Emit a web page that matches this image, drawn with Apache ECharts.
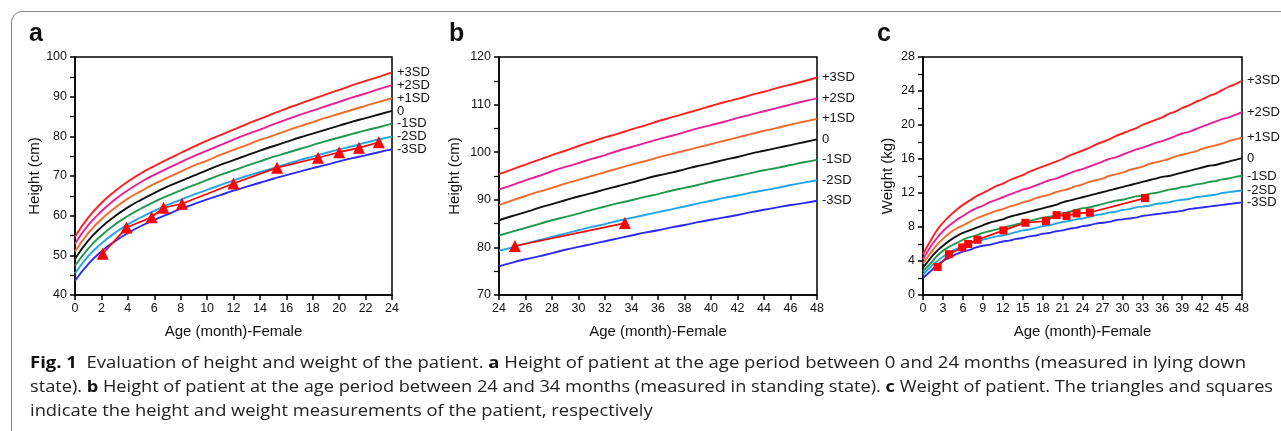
<!DOCTYPE html>
<html>
<head>
<meta charset="utf-8">
<script src="https://cdn.jsdelivr.net/npm/echarts@6/dist/echarts.min.js"></script>
<style>
html,body{margin:0;padding:0;background:#fff;width:1281px;height:431px;overflow:hidden;}
#frame{position:absolute;left:11px;top:11px;width:1300px;height:440px;border:1px solid #888;border-radius:11px;box-sizing:border-box;}
#chart{position:absolute;left:0;top:0;width:1281px;height:431px;}
.cap{position:absolute;left:30px;white-space:nowrap;font-family:"Open Sans","Noto Sans",sans-serif;font-size:16px;color:#222;transform-origin:0 50%;line-height:20px;}
.cap b{font-weight:700;color:#111;}
</style>
</head>
<body>
<div id="frame"></div>
<div id="chart"></div>
<div class="cap" id="c1" style="top:352px"><b>Fig. 1</b>&nbsp; Evaluation of height and weight of the patient. <b>a</b> Height of patient at the age period between 0 and 24 months (measured in lying down</div>
<div class="cap" id="c2" style="top:376px">state). <b>b</b> Height of patient at the age period between 24 and 34 months (measured in standing state). <b>c</b> Weight of patient. The triangles and squares</div>
<div class="cap" id="c3" style="top:400px">indicate the height and weight measurements of the patient, respectively</div>
<script>
// ---------- Panel a: length-for-age, girls 0-24 months ----------
const ageA = [0,1,2,3,4,5,6,7,8,9,10,11,12,13,14,15,16,17,18,19,20,21,22,23,24];
const lenA_p3 = [54.7,59.5,63.2,66.1,68.6,70.7,72.5,74.2,75.8,77.4,78.9,80.3,81.7,83.1,84.4,85.7,87.0,88.2,89.4,90.6,91.7,92.9,94.0,95.0,96.1];
const lenA_p2 = [52.9,57.6,61.1,64.0,66.4,68.5,70.3,71.9,73.5,75.0,76.4,77.8,79.2,80.5,81.7,83.0,84.2,85.4,86.5,87.6,88.7,89.8,90.8,91.9,92.9];
const lenA_p1 = [51.0,55.6,59.1,61.9,64.3,66.2,68.0,69.6,71.1,72.6,73.9,75.3,76.6,77.8,79.1,80.2,81.4,82.5,83.6,84.7,85.7,86.7,87.7,88.7,89.6];
const lenA_0  = [49.1,53.7,57.1,59.8,62.1,64.0,65.7,67.3,68.7,70.1,71.5,72.8,74.0,75.2,76.4,77.5,78.6,79.7,80.7,81.7,82.7,83.7,84.6,85.5,86.4];
const lenA_m1 = [47.3,51.7,55.0,57.7,59.9,61.8,63.5,65.0,66.4,67.7,69.0,70.3,71.4,72.6,73.7,74.8,75.8,76.8,77.8,78.8,79.7,80.6,81.5,82.3,83.2];
const lenA_m2 = [45.4,49.8,53.0,55.6,57.8,59.6,61.2,62.7,64.0,65.3,66.5,67.7,68.9,70.0,71.0,72.0,73.0,74.0,74.9,75.8,76.7,77.5,78.4,79.2,80.0];
const lenA_m3 = [43.6,47.8,51.0,53.5,55.6,57.4,58.9,60.3,61.7,62.9,64.1,65.2,66.3,67.3,68.3,69.3,70.2,71.1,72.0,72.8,73.7,74.5,75.2,76.0,76.7];
const ptAgeA = [2.1,3.9,5.8,6.7,8.1,12.0,15.3,18.4,20.0,21.5,23.0];
const ptLenA = [50.4,57.0,59.6,62.0,63.0,68.1,72.1,74.6,76.0,77.1,78.5];

// ---------- Panel b: height-for-age, girls 24-48 months ----------
const ageB = [24,25,26,27,28,29,30,31,32,33,34,35,36,37,38,39,40,41,42,43,44,45,46,47,48];
const htB_p3 = [95.4,96.4,97.4,98.4,99.4,100.3,101.3,102.2,103.1,103.9,104.8,105.6,106.5,107.3,108.1,108.9,109.7,110.5,111.2,112.0,112.7,113.5,114.2,114.9,115.7];
const htB_p2 = [92.2,93.1,94.1,95.0,96.0,96.9,97.7,98.6,99.4,100.3,101.1,101.9,102.7,103.4,104.2,105.0,105.7,106.4,107.2,107.9,108.6,109.3,110.0,110.7,111.3];
const htB_p1 = [88.9,89.9,90.8,91.7,92.5,93.4,94.2,95.0,95.8,96.6,97.4,98.1,98.9,99.6,100.3,101.0,101.7,102.4,103.1,103.8,104.5,105.1,105.8,106.4,107.0];
const htB_0  = [85.7,86.6,87.4,88.3,89.1,89.9,90.7,91.4,92.2,92.9,93.6,94.4,95.1,95.7,96.4,97.1,97.7,98.4,99.0,99.7,100.3,100.9,101.5,102.1,102.7];
const htB_m1 = [82.5,83.3,84.1,84.9,85.7,86.4,87.1,87.9,88.6,89.3,89.9,90.6,91.2,91.9,92.5,93.1,93.8,94.4,95.0,95.6,96.2,96.7,97.3,97.9,98.4];
const htB_m2 = [79.3,80.0,80.8,81.5,82.2,82.9,83.6,84.3,84.9,85.6,86.2,86.8,87.4,88.0,88.6,89.2,89.8,90.4,90.9,91.5,92.0,92.5,93.1,93.6,94.1];
const htB_m3 = [76.0,76.8,77.5,78.1,78.8,79.5,80.1,80.7,81.3,81.9,82.5,83.1,83.6,84.2,84.7,85.3,85.8,86.3,86.8,87.4,87.9,88.4,88.9,89.3,89.8];
const ptAgeB = [25.2,33.5];
const ptHtB = [80.3,85.1];

// ---------- Panel c: weight-for-age, girls 0-48 months ----------
const ageC = [0,1,2,3,4,5,6,7,8,9,10,11,12,13,14,15,16,17,18,19,20,21,22,23,24,25,26,27,28,29,30,31,32,33,34,35,36,37,38,39,40,41,42,43,44,45,46,47,48];
const wtC_p3 = [4.8,6.2,7.5,8.5,9.3,10.0,10.6,11.1,11.6,12.0,12.4,12.8,13.1,13.5,13.8,14.1,14.5,14.8,15.1,15.4,15.7,16.0,16.4,16.7,17.0,17.3,17.7,18.0,18.3,18.7,19.0,19.3,19.6,20.0,20.3,20.6,20.9,21.3,21.6,22.0,22.3,22.7,23.0,23.4,23.7,24.1,24.5,24.8,25.2];
const wtC_p2 = [4.2,5.5,6.6,7.5,8.2,8.8,9.3,9.8,10.2,10.5,10.9,11.2,11.5,11.8,12.1,12.4,12.6,12.9,13.2,13.5,13.7,14.0,14.3,14.6,14.8,15.1,15.4,15.7,16.0,16.2,16.5,16.8,17.1,17.3,17.6,17.9,18.1,18.4,18.7,19.0,19.2,19.5,19.8,20.1,20.4,20.7,20.9,21.2,21.5];
const wtC_p1 = [3.7,4.8,5.8,6.6,7.3,7.8,8.2,8.6,9.0,9.3,9.6,9.9,10.1,10.4,10.6,10.9,11.1,11.4,11.6,11.8,12.1,12.3,12.5,12.8,13.0,13.3,13.5,13.7,14.0,14.2,14.4,14.7,14.9,15.1,15.4,15.6,15.8,16.0,16.3,16.5,16.7,16.9,17.2,17.4,17.6,17.8,18.1,18.3,18.5];
const wtC_0  = [3.2,4.2,5.1,5.8,6.4,6.9,7.3,7.6,7.9,8.2,8.5,8.7,8.9,9.2,9.4,9.6,9.8,10.0,10.2,10.4,10.6,10.9,11.1,11.3,11.5,11.7,11.9,12.1,12.3,12.5,12.7,12.9,13.1,13.3,13.5,13.7,13.9,14.0,14.2,14.4,14.6,14.8,15.0,15.2,15.3,15.5,15.7,15.9,16.1];
const wtC_m1 = [2.8,3.6,4.5,5.2,5.7,6.1,6.5,6.8,7.0,7.3,7.5,7.7,7.9,8.1,8.3,8.5,8.7,8.9,9.1,9.2,9.4,9.6,9.8,10.0,10.2,10.3,10.5,10.7,10.9,11.1,11.2,11.4,11.6,11.7,11.9,12.0,12.2,12.4,12.5,12.7,12.8,13.0,13.1,13.3,13.4,13.6,13.7,13.9,14.0];
const wtC_m2 = [2.4,3.2,3.9,4.5,5.0,5.4,5.7,6.0,6.3,6.5,6.7,6.9,7.0,7.2,7.4,7.6,7.7,7.9,8.1,8.2,8.4,8.6,8.7,8.9,9.0,9.2,9.4,9.5,9.7,9.8,10.0,10.1,10.3,10.4,10.5,10.7,10.8,10.9,11.1,11.2,11.3,11.5,11.6,11.7,11.8,12.0,12.1,12.2,12.3];
const wtC_m3 = [2.0,2.7,3.4,4.0,4.4,4.8,5.1,5.3,5.6,5.8,5.9,6.1,6.3,6.4,6.6,6.7,6.9,7.0,7.2,7.3,7.5,7.6,7.8,7.9,8.1,8.2,8.4,8.5,8.6,8.8,8.9,9.0,9.1,9.3,9.4,9.5,9.6,9.7,9.8,9.9,10.1,10.2,10.3,10.4,10.5,10.6,10.7,10.8,10.9];
const ptAgeC = [2.2,3.9,5.9,6.8,8.2,12.1,15.4,18.5,20.1,21.6,23.1,25.1,33.4];
const ptWtC = [3.3,4.8,5.6,6.0,6.5,7.6,8.5,8.7,9.4,9.3,9.6,9.7,11.4];

// ---------- Labels ----------
const sdNames = ['+3SD','+2SD','+1SD','0','-1SD','-2SD','-3SD'];
const sdColors = ['#ff1f1f','#ec1e93','#f4692a','#111111','#1e9a4c','#20a6e8','#2b2bf2'];
const xTitle = 'Age (month)-Female';
const panelLetters = ['a','b','c'];
const yTitles = ['Height (cm)','Height (cm)','Weight (kg)'];

const FONT = '"Liberation Sans", Arial, sans-serif';
const pair = (xs, ys) => xs.map((x, i) => [x, ys[i]]);

const panels = [
  {ages: ageA, curves:[lenA_p3,lenA_p2,lenA_p1,lenA_0,lenA_m1,lenA_m2,lenA_m3], pt:[ptAgeA, ptLenA], sym:'triangle', symSize:12,
   grid:{left:75, top:57, width:317, height:238}, x:{min:0,max:24,interval:2}, y:{min:40,max:100,interval:10}, nameGap:33},
  {ages: ageB, curves:[htB_p3,htB_p2,htB_p1,htB_0,htB_m1,htB_m2,htB_m3], pt:[ptAgeB, ptHtB], sym:'triangle', symSize:12,
   grid:{left:499, top:57, width:318, height:238}, x:{min:24,max:48,interval:2}, y:{min:70,max:120,interval:10}, nameGap:37},
  {ages: ageC, curves:[wtC_p3,wtC_p2,wtC_p1,wtC_0,wtC_m1,wtC_m2,wtC_m3], pt:[ptAgeC, ptWtC], sym:'rect', symSize:8,
   grid:{left:923, top:57, width:319, height:238}, x:{min:0,max:48,interval:3}, y:{min:0,max:28,interval:4}, nameGap:28}
];

const grids = [], xAxes = [], yAxes = [], series = [], graphics = [];
panels.forEach((p, i) => {
  grids.push(Object.assign({show:true, borderColor:'#000', borderWidth:1.5, backgroundColor:'transparent'}, p.grid));
  xAxes.push({
    type:'value', gridIndex:i, min:p.x.min, max:p.x.max, interval:p.x.interval,
    name:xTitle, nameLocation:'middle', nameGap:29,
    nameTextStyle:{fontFamily:FONT, fontSize:15, color:'#111'},
    axisLine:{onZero:false, lineStyle:{color:'#000', width:1.5}},
    axisTick:{show:true, length:5, lineStyle:{color:'#000', width:1.5}},
    axisLabel:{fontFamily:FONT, fontSize:12.5, color:'#111', margin:7},
    splitLine:{show:false}
  });
  yAxes.push({
    type:'value', gridIndex:i, min:p.y.min, max:p.y.max, interval:p.y.interval,
    name:yTitles[i], nameLocation:'middle', nameGap:p.nameGap, nameRotate:90,
    nameTextStyle:{fontFamily:FONT, fontSize:15, color:'#111'},
    axisLine:{onZero:false, lineStyle:{color:'#000', width:1.5}},
    axisTick:{show:true, length:5, lineStyle:{color:'#000', width:1.5}},
    minorTick:{show:true, splitNumber:2, length:5, lineStyle:{color:'#000', width:1.2}},
    axisLabel:{fontFamily:FONT, fontSize:12.5, color:'#111', margin:8},
    splitLine:{show:false}
  });
  p.curves.forEach((vals, k) => {
    series.push({
      type:'line', xAxisIndex:i, yAxisIndex:i, name:sdNames[k],
      data:pair(p.ages, vals), showSymbol:false, symbol:'none',
      smooth:0.5,
      lineStyle:{color:sdColors[k], width:1.9},
      endLabel:{show:true, formatter:sdNames[k], fontFamily:FONT, fontSize:13, color:'#111', distance:5},
      silent:true, z:2
    });
  });
  series.push({
    type:'line', xAxisIndex:i, yAxisIndex:i, name:'patient',
    data:pair(p.pt[0], p.pt[1]), symbol:p.sym, symbolSize:p.symSize, showSymbol:true,
    lineStyle:{color:'#ff0000', width:1.7}, itemStyle:{color:'#ff0000'}, z:5
  });
  graphics.push({
    type:'text', left:[29, 449, 877][i], top:22,
    style:{text:panelLetters[i], font:'bold 25px ' + FONT, fill:'#111'}
  });
});

const chart = echarts.init(document.getElementById('chart'), null, {renderer:'canvas'});
chart.setOption({
  animation:false,
  backgroundColor:'transparent',
  grid:grids, xAxis:xAxes, yAxis:yAxes, series:series, graphic:graphics
});

// fit caption lines to reference widths
const targets = {c1:1216, c2:1243};
const scales = [];
['c1','c2'].forEach(id => {
  const el = document.getElementById(id);
  const w = el.getBoundingClientRect().width;
  const s = targets[id] / w;
  scales.push(s);
  el.style.transform = 'scaleX(' + s + ')';
});
const avg = (scales[0] + scales[1]) / 2;
document.getElementById('c3').style.transform = 'scaleX(' + avg + ')';
</script>
</body>
</html>
